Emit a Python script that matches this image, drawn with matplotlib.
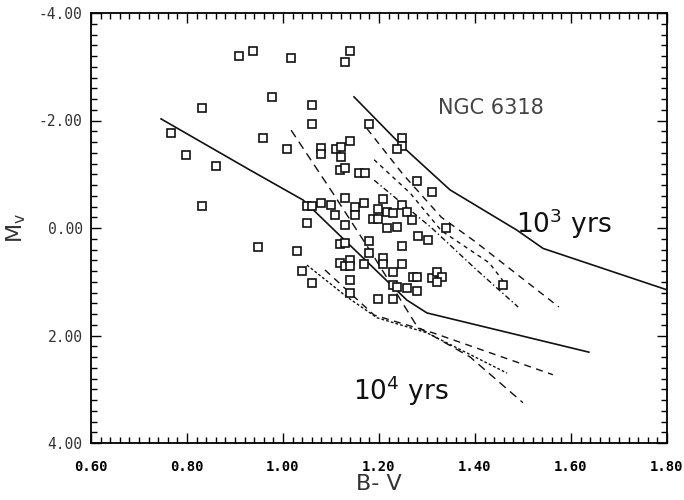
import numpy as np
import matplotlib
matplotlib.use('Agg')
import matplotlib.pyplot as plt
from matplotlib.ticker import MultipleLocator, FormatStrFormatter

# observed stars: B-V colour and absolute magnitude
bv = [0.908, 0.938, 1.017, 1.140, 1.129, 0.977, 0.831, 1.060, 1.060, 1.179,
      0.767, 0.958, 0.798, 0.860, 1.008, 1.079, 1.079, 1.110, 1.121, 1.121,
      1.140, 1.119, 1.129, 1.158, 1.171, 1.248, 1.248, 1.238, 1.279, 1.310,
      0.831, 1.050, 1.060, 1.079, 1.100, 1.129, 1.150, 1.169, 1.208, 1.198,
      1.217, 1.229, 1.188, 1.198, 1.108, 1.150, 1.050, 1.129, 1.217, 1.238,
      1.179, 1.119, 1.129, 0.948, 1.029, 1.248, 1.258, 1.269, 1.281, 1.302,
      1.340, 1.248, 1.040, 1.060, 1.119, 1.129, 1.140, 1.140, 1.169, 1.179,
      1.208, 1.208, 1.229, 1.248, 1.140, 1.140, 1.229, 1.238, 1.258, 1.271,
      1.279, 1.279, 1.310, 1.321, 1.331, 1.321, 1.198, 1.229, 1.458]
mv = [-3.20, -3.29, -3.16, -3.29, -3.09, -2.44, -2.23, -2.29, -1.94, -1.94,
      -1.77, -1.67, -1.36, -1.15, -1.47, -1.49, -1.38, -1.47, -1.51, -1.32,
      -1.62, -1.08, -1.12, -1.02, -1.02, -1.67, -1.53, -1.47, -0.87, -0.67,
      -0.41, -0.41, -0.41, -0.47, -0.43, -0.56, -0.39, -0.47, -0.54, -0.35,
      -0.30, -0.28, -0.17, -0.17, -0.24, -0.24, -0.09, -0.06, 0.00, -0.02,
      0.24, 0.30, 0.28, 0.35, 0.43, -0.43, -0.30, -0.15, 0.15, 0.22,
      0.00, 0.33, 0.80, 1.02, 0.65, 0.71, 0.60, 0.71, 0.67, 0.47,
      0.56, 0.67, 0.82, 0.67, 0.97, 1.21, 1.06, 1.10, 1.12, 0.91,
      0.91, 1.17, 0.93, 0.82, 0.91, 1.00, 1.32, 1.32, 1.06]

# 10^3 yr isochrones
u_solid_x = [1.148, 1.250, 1.348, 1.4875, 1.542, 1.80]
u_solid_y = [-2.44, -1.51, -0.71, 0.04, 0.38, 1.15]
u_dash_x = [1.175, 1.250, 1.330, 1.400, 1.575]
u_dash_y = [-1.85, -1.00, -0.20, 0.25, 1.47]
u_dashdot_x = [1.19, 1.31, 1.40, 1.49]
u_dashdot_y = [-0.89, 0.00, 0.75, 1.47]
u_short_x = [1.19, 1.265, 1.33, 1.43, 1.46]
u_short_y = [-1.27, -0.65, 0.05, 0.65, 1.00]

# 10^4 yr isochrones
l_solid_x = [0.746, 0.931, 1.042, 1.258, 1.300, 1.6375]
l_solid_y = [-2.03, -1.08, -0.52, 1.34, 1.58, 2.31]
l_dash_x = [1.05, 1.133, 1.196, 1.30, 1.467]
l_dash_y = [0.69, 1.28, 1.67, 1.95, 2.70]
l_long_x = [1.0875, 1.19, 1.3125, 1.5625]
l_long_y = [0.78, 1.62, 1.95, 2.73]
l_steep_x = [1.017, 1.104, 1.19, 1.28, 1.39, 1.50]
l_steep_y = [-1.82, -0.65, 0.54, 1.84, 2.40, 3.25]

fig = plt.figure(figsize=(6.84, 5.0), dpi=100)
ax = fig.add_axes([0.133, 0.114, 0.842, 0.860])

k = '#111111'
ax.plot(u_solid_x, u_solid_y, color=k, lw=1.2)
ax.plot(u_dash_x, u_dash_y, color=k, lw=1.0, dashes=(5, 4))
ax.plot(u_dashdot_x, u_dashdot_y, color=k, lw=1.0, dashes=(4, 2, 1, 2))
ax.plot(u_short_x, u_short_y, color=k, lw=1.0, dashes=(3, 3))
ax.plot(l_solid_x, l_solid_y, color=k, lw=1.2)
ax.plot(l_dash_x, l_dash_y, color=k, lw=1.0, dashes=(2, 1.5))
ax.plot(l_long_x, l_long_y, color=k, lw=1.0, dashes=(5, 4))
ax.plot(l_steep_x, l_steep_y, color=k, lw=1.0, dashes=(6, 4))

ax.plot(bv, mv, 's', ms=5.5, mfc='white', mec=k, mew=1.2, ls='none')

ax.set_xlim(0.6, 1.8)
ax.set_ylim(4.0, -4.0)
ax.xaxis.set_major_locator(MultipleLocator(0.2))
ax.xaxis.set_minor_locator(MultipleLocator(0.02))
ax.yaxis.set_major_locator(MultipleLocator(2.0))
ax.yaxis.set_minor_locator(MultipleLocator(0.2))
ax.xaxis.set_major_formatter(FormatStrFormatter('%.2f'))
ax.yaxis.set_major_formatter(FormatStrFormatter('%.2f'))
ax.tick_params(which='both', direction='in', top=True, right=True, width=1.0)
ax.tick_params(which='major', length=7)
ax.tick_params(which='minor', length=4)
ax.tick_params(axis='x', pad=12)
ax.tick_params(axis='y', pad=6)
for lab in ax.get_xticklabels():
    lab.set_fontfamily('DejaVu Sans Mono')
    lab.set_fontweight('bold')
    lab.set_fontsize(10)
for lab in ax.get_yticklabels():
    lab.set_fontfamily('DejaVu Sans Mono')
    lab.set_fontsize(10.5)
    lab.set_color('#333333')
for s in ax.spines.values():
    s.set_linewidth(1.3)

ax.set_xlabel('B- V', fontsize=16, color='#333333', labelpad=0)
ax.set_ylabel(r'M$_\mathrm{v}$', fontsize=16, color='#333333', labelpad=8)

ax.text(1.433, -2.23, 'NGC 6318', fontsize=15, color='#444444', ha='center', va='center')
ax.text(1.485, 0.09, r'10$^3$ yrs', fontsize=19, color='#111111', ha='left', va='baseline')
ax.text(1.146, 3.2, r'10$^4$ yrs', fontsize=19, color='#111111', ha='left', va='baseline')

fig.savefig('out.png', dpi=100)
